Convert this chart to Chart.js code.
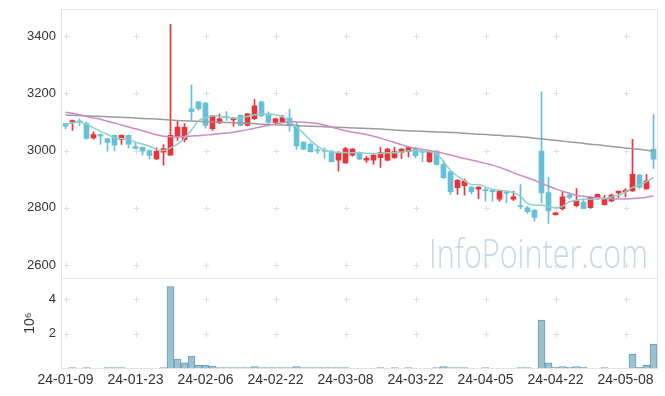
<!DOCTYPE html>
<html><head><meta charset="utf-8">
<script src="https://cdn.jsdelivr.net/npm/chart.js@4"></script>
<style>html,body{margin:0;padding:0;background:#fff}#c{display:block}</style>
</head><body>
<canvas id="c" width="665" height="396"></canvas>
<script>
const dates = ["24-01-09","24-01-10","24-01-11","24-01-12","24-01-15","24-01-16","24-01-17","24-01-18","24-01-19","24-01-22",
"24-01-23","24-01-24","24-01-25","24-01-26","24-01-29","24-01-30","24-01-31","24-02-01","24-02-02","24-02-05",
"24-02-06","24-02-07","24-02-08","24-02-13","24-02-14","24-02-15","24-02-16","24-02-19","24-02-20","24-02-21",
"24-02-22","24-02-23","24-02-26","24-02-27","24-02-28","24-02-29","24-03-04","24-03-05","24-03-06","24-03-07",
"24-03-08","24-03-11","24-03-12","24-03-13","24-03-14","24-03-15","24-03-18","24-03-19","24-03-20","24-03-21",
"24-03-22","24-03-25","24-03-26","24-03-27","24-03-28","24-03-29","24-04-01","24-04-02","24-04-03","24-04-04",
"24-04-05","24-04-08","24-04-09","24-04-11","24-04-12","24-04-15","24-04-16","24-04-17","24-04-18","24-04-19",
"24-04-22","24-04-23","24-04-24","24-04-25","24-04-26","24-04-29","24-04-30","24-05-02","24-05-03","24-05-07",
"24-05-08","24-05-09","24-05-10","24-05-13","24-05-14"];

const openP = [3094,3099,3104,3094,3044,3056,3042,3053,3039,3053,
3014,3011,3000,2971,2994,2984,3049,3038,3146,3170,
3166,3076,3096,3119,3107,3123,3088,3111,3170,3128,
3098,3100,3113,3089,3029,3022,3001,3000,2998,2966,
2957,2984,2990,2966,2966,2975,2966,2975,2993,2996,
3007,2996,2961,2998,2952,2926,2870,2877,2872,2865,
2862,2861,2830,2853,2830,2808,2800,2792,2998,2853,
2776,2797,2844,2807,2820,2800,2831,2811,2824,2852,
2856,2859,2914,2866,3005];
const highP = [3096,3106,3111,3100,3065,3058,3043,3055,3055,3055,
3029,3013,3002,3009,3021,3441,3103,3094,3229,3172,
3168,3123,3127,3136,3115,3125,3130,3179,3172,3135,
3113,3123,3144,3100,3031,3028,3015,3009,3001,2996,
3011,3007,2995,2980,2986,3011,3008,3011,3007,3015,
3010,3004,2998,3000,2966,2928,2898,2900,2874,2874,
2871,2863,2861,2859,2857,2881,2805,2794,3205,2906,
2784,2856,2852,2867,2832,2838,2848,2843,2848,2858,
2867,3039,2916,2916,3126];
const lowP = [3076,3070,3088,3040,3040,3021,2998,2999,3021,3009,
3005,2984,2971,2968,2949,2984,3035,3030,3105,3140,
3078,3070,3094,3105,3084,3086,3086,3108,3118,3090,
3089,3098,3067,3004,3003,2994,2990,2972,2960,2928,
2955,2980,2968,2958,2951,2941,2964,2972,2972,2978,
2975,2961,2958,2950,2902,2847,2847,2844,2848,2832,
2823,2823,2823,2818,2826,2797,2780,2753,2817,2745,
2774,2792,2830,2803,2797,2798,2830,2809,2820,2836,
2838,2857,2866,2865,2937];
const closeP = [3085,3105,3097,3042,3056,3050,3028,3019,3053,3022,
3007,2998,2983,2997,3007,3053,3082,3081,3136,3146,
3088,3121,3111,3115,3113,3088,3128,3156,3122,3098,
3111,3115,3090,3016,3005,2996,2999,2998,2961,2993,
3007,3005,2970,2973,2984,2993,3005,2996,3005,3010,
2982,2993,2996,2951,2905,2856,2896,2893,2856,2872,
2860,2856,2858,2851,2838,2804,2786,2766,2852,2789,
2782,2838,2836,2823,2797,2836,2847,2829,2844,2858,
2861,2917,2871,2894,2970];

const ma5 = [3093,3096,3100,3091,3079,3067,3056,3044,3042,3039,
3029,3023,3015,3004,3000,3009,3022,3043,3072,3104,
3115,3121,3119,3115,3113,3113,3119,3125,3127,3127,
3125,3119,3100,3083,3060,3036,3015,3001,2996,2993,
2993,2992,2992,2990,2990,2990,2992,2992,2995,2998,
2999,2998,2996,2990,2961,2931,2910,2894,2881,2881,
2873,2864,2861,2858,2853,2840,2815,2809,2809,2803,
2800,2805,2821,2826,2830,2830,2832,2832,2838,2844,
2856,2871,2879,2891,2906];
const ma20 = [3134,3130,3125,3119,3114,3109,3102,3096,3089,3082,
3076,3069,3062,3055,3050,3048,3047,3049,3051,3052,
3054,3056,3059,3061,3064,3068,3073,3078,3083,3088,
3093,3097,3100,3100,3099,3097,3094,3089,3082,3075,
3069,3064,3060,3056,3050,3043,3036,3028,3020,3013,
3008,3004,3000,2996,2990,2984,2978,2972,2967,2961,
2955,2949,2941,2932,2922,2913,2905,2896,2886,2875,
2866,2858,2850,2844,2840,2838,2835,2832,2831,2831,
2831,2832,2834,2837,2842];
const ma60 = [3124,3123,3122,3121,3120,3119,3118,3117,3116,3115,
3114,3112,3111,3110,3108,3107,3105,3104,3103,3102,
3101,3100,3099,3098,3097,3096,3095,3094,3092,3091,
3090,3089,3088,3087,3086,3085,3084,3083,3082,3081,
3080,3079,3078,3077,3076,3075,3073,3072,3070,3069,
3068,3067,3066,3065,3064,3063,3062,3060,3059,3057,
3056,3054,3053,3051,3050,3048,3046,3043,3041,3038,
3036,3033,3030,3028,3025,3022,3020,3017,3014,3012,
3009,3006,3004,3001,2998];

// volume in millions (axis title 10^6)
const volume = [0,0.03,0,0.03,0,0,0.03,0.03,0.03,0,
0,0,0,0,0.03,4.71,0.52,0.31,0.70,0.17,
0.17,0.12,0.04,0.04,0.04,0.04,0.04,0.10,0.04,0.04,
0.04,0.04,0.04,0.10,0.04,0.04,0.04,0.04,0.04,0.04,
0.04,0,0,0,0,0.03,0,0.03,0,0.03,
0,0,0,0.04,0.10,0.04,0.04,0.04,0,0,
0.03,0,0,0,0,0.04,0.04,0,2.78,0.31,
0.05,0.10,0.05,0.10,0.05,0,0,0.04,0,0,
0,0.81,0.05,0.17,1.39];

const priceTicks = [2600,2800,3000,3200,3400];
const volumeTicks = [2,4];
const labelStep = 10;

const UP = '#e8333b', DOWN = '#66c0d8';
const candleColor = i => closeP[i] >= openP[i] ? UP : DOWN;

const frame = {
  id: 'frame',
  beforeDatasetsDraw(chart) {
    const ctx = chart.ctx, ca = chart.chartArea, xs = chart.scales.x, y = chart.scales.y, yv = chart.scales.yVol;
    ctx.save();
    ctx.font = '300 40px "Open Sans"';
    const txt = 'InfoPointer.com';
    const w = ctx.measureText(txt).width;
    const target = 219;
    ctx.translate(ca.right - 9 - target, y.bottom - 10);
    ctx.scale(target / w, 1);
    ctx.fillStyle = '#c6d8e4';
    ctx.textBaseline = 'alphabetic';
    ctx.fillText(txt, 0, 0);
    ctx.restore();
    ctx.save();
    ctx.strokeStyle = '#dedede';
    ctx.lineWidth = 1;
    const drawCross = (px, py) => {
      px = Math.round(px) + 0.5; py = Math.round(py) + 0.5;
      ctx.beginPath();
      ctx.moveTo(px - 3, py); ctx.lineTo(px + 3, py);
      ctx.moveTo(px, py - 3); ctx.lineTo(px, py + 3);
      ctx.stroke();
    };
    for (let i = 0; i < dates.length; i += labelStep) {
      const px = xs.getPixelForValue(i);
      priceTicks.forEach(v => drawCross(px, y.getPixelForValue(v)));
      volumeTicks.forEach(v => drawCross(px, yv.getPixelForValue(v)));
    }
    ctx.restore();
  },
  afterDraw(chart) {
    const ctx = chart.ctx, ca = chart.chartArea, y = chart.scales.y;
    ctx.save();
    ctx.strokeStyle = '#e3e3e3';
    ctx.lineWidth = 1;
    ctx.strokeRect(Math.round(ca.left) - 0.5, Math.round(ca.top) - 0.5, Math.round(ca.right - ca.left) + 1, Math.round(ca.bottom - ca.top) + 1);
    ctx.beginPath();
    const sy = Math.round(y.bottom) + 0.5;
    ctx.moveTo(ca.left, sy); ctx.lineTo(ca.right, sy);
    ctx.stroke();
    ctx.restore();
  }
};

const fixWidth = s => { s.width = 62; };
const plainNum = v => String(v);

new Chart(document.getElementById('c'), {
  data: {
    labels: dates,
    datasets: [
      { type: 'line', label: 'MA5', data: ma5, yAxisID: 'y', borderColor: '#8fd0c6', borderWidth: 1.5, pointRadius: 0, tension: 0.35, order: 1 },
      { type: 'line', label: 'MA20', data: ma20, yAxisID: 'y', borderColor: '#c98cc6', borderWidth: 1.5, pointRadius: 0, tension: 0.35, order: 1 },
      { type: 'line', label: 'MA60', data: ma60, yAxisID: 'y', borderColor: '#9b9b9b', borderWidth: 1.5, pointRadius: 0, tension: 0.35, order: 1 },
      { type: 'bar', label: 'body', data: dates.map((d, i) => [openP[i], closeP[i]]), yAxisID: 'y',
        backgroundColor: dates.map((d, i) => candleColor(i)), barThickness: 5, minBarLength: 1, grouped: false, order: 2 },
      { type: 'bar', label: 'wick', data: dates.map((d, i) => [lowP[i], highP[i]]), yAxisID: 'y',
        backgroundColor: dates.map((d, i) => candleColor(i)), barThickness: 1, grouped: false, order: 3 },
      { type: 'bar', label: 'volume', data: volume, yAxisID: 'yVol',
        backgroundColor: '#9cc1d1', borderColor: '#6b9db4', borderWidth: 1, borderSkipped: 'bottom',
        categoryPercentage: 1, barPercentage: 1, grouped: false, order: 4 }
    ]
  },
  options: {
    responsive: false,
    animation: false,
    devicePixelRatio: 1,
    layout: { padding: { top: 10, right: 8, left: 0, bottom: 3 } },
    plugins: { legend: { display: false }, tooltip: { enabled: false } },
    scales: {
      x: {
        type: 'category', offset: true,
        grid: { display: false, drawTicks: false }, border: { display: false },
        ticks: { autoSkip: false, maxRotation: 0, minRotation: 0, padding: 4, color: '#333',
          font: { family: 'Liberation Sans', size: 14 },
          callback: (v, i) => (i % labelStep === 0 ? dates[i] : '') }
      },
      yVol: {
        type: 'linear', position: 'left', stack: 'main', stackWeight: 90,
        min: 0, max: 5.2,
        grid: { display: false, drawTicks: false }, border: { display: false },
        afterFit: fixWidth,
        afterBuildTicks: s => { s.ticks = volumeTicks.map(v => ({ value: v })); },
        ticks: { padding: 6, color: '#333', font: { family: 'Liberation Sans', size: 13, lineHeight: 0.4 }, callback: plainNum },
        title: { display: true, text: '10⁶', color: '#333', font: { family: 'Liberation Sans', size: 14 }, padding: { top: 22, bottom: 0 } }
      },
      y: {
        type: 'linear', position: 'left', stack: 'main', stackWeight: 268,
        min: 2554, max: 3491,
        grid: { display: false, drawTicks: false }, border: { display: false },
        afterFit: fixWidth,
        afterBuildTicks: s => { s.ticks = priceTicks.map(v => ({ value: v })); },
        ticks: { padding: 6, color: '#333', font: { family: 'Liberation Sans', size: 13, lineHeight: 0.4 }, callback: plainNum }
      }
    }
  },
  plugins: [frame]
});
</script>
</body></html>
